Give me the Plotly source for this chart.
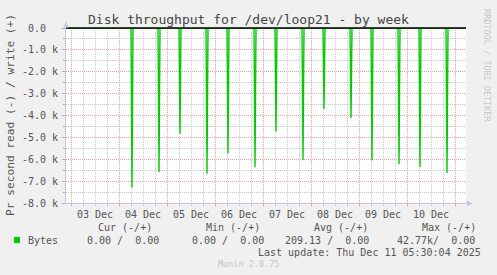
import numpy as np
import pandas as pd
import plotly.graph_objects as go

# ---------------- data ----------------
START = "2025-12-02 21:30"
END = "2025-12-11 05:30"

spike_times = [
    "2025-12-04 06:30", "2025-12-04 20:00", "2025-12-05 06:30", "2025-12-05 20:00",
    "2025-12-06 06:30", "2025-12-06 20:00", "2025-12-07 06:30", "2025-12-07 20:00",
    "2025-12-08 06:30", "2025-12-08 20:00", "2025-12-09 06:30", "2025-12-09 20:00",
    "2025-12-10 06:30", "2025-12-10 20:00",
]
read_bytes = [7290, 6580, 4830, 6660, 5730, 6370, 4730, 6050,
              3700, 4110, 6040, 6230, 6370, 6630]
hrule_value = 0
y_range = [-8000, 0]

day_labels = ["03 Dec", "04 Dec", "05 Dec", "06 Dec", "07 Dec", "08 Dec", "09 Dec", "10 Dec"]
y_tick_values = [0, -1000, -2000, -3000, -4000, -5000, -6000, -7000, -8000]
y_tick_labels = ["0.0\u00a0\u00a0", "-1.0 k", "-2.0 k", "-3.0 k", "-4.0 k",
                 "-5.0 k", "-6.0 k", "-7.0 k", "-8.0 k"]
y_minor_values = [-500, -1500, -2500, -3500, -4500, -5500, -6500, -7500]

title = "Disk throughput for /dev/loop21 - by week"
y_title = "Pr second read (-) / write (+)"
legend_headers = ["Cur (-/+)", "Min (-/+)", "Avg (-/+)", "Max (-/+)"]
legend_values = ["0.00 /\u00a0\u00a00.00", "0.00 /\u00a0\u00a00.00",
                 "209.13 /\u00a0\u00a00.00", "42.77k/\u00a0\u00a00.00"]
series_name = "Bytes"
last_update = "Last update: Thu Dec 11 05:30:04 2025"
footer = "Munin 2.0.75"
side_text = "RRDTOOL / TOBI OETIKER"

# ---------------- series ----------------
times = pd.date_range(START, END, freq="30min")
read = pd.Series(0.0, index=times)
read.loc[pd.to_datetime(spike_times)] = -np.array(read_bytes, dtype=float)
write = pd.Series(0.0, index=times)

midnights = pd.date_range("2025-12-03", "2025-12-11", freq="D")
noons = midnights[:-1] + pd.Timedelta(hours=12)
six_hours = pd.date_range("2025-12-03", END, freq="6h")
minor_x = [t for t in six_hours if t.hour != 0]

# ---------------- geometry helpers ----------------
W, H = 497, 275
L, R, T, B = 66, 31, 28, 72
PW, PH = W - L - R, H - T - B


def px(x):
    return (x - L) / PW


def py(y):
    return (H - B - y) / PH


GREEN = "#00CC00"
TXT = "#555555"
FONT = "DejaVu Sans Mono"
AXIS = "#C4C4EC"
MAJ = "#EE9A9A"
MIN = "#C8C8C8"
DASH = "1px,1px"

fig = go.Figure()
fig.add_trace(go.Scatter(x=write.index, y=write.values, mode="lines",
                         line=dict(color=GREEN, width=1),
                         hoverinfo="skip", showlegend=False))
fig.add_trace(go.Scatter(x=read.index, y=read.values, mode="lines",
                         line=dict(color=GREEN, width=1.4),
                         hoverinfo="skip", showlegend=False))
# overlay axis for the day labels (empty-valued helper trace keeps it alive)
fig.add_trace(go.Scatter(x=[START, END], y=[None, None], mode="lines", xaxis="x2",
                         hoverinfo="skip", showlegend=False))

hrule_paper = (hrule_value - y_range[0]) / (y_range[1] - y_range[0])

shapes = [
    # HRULE:0#000000 (paper-referenced so it is not clipped at the plot edge)
    dict(type="line", xref="paper", yref="paper", x0=0, x1=1,
         y0=hrule_paper, y1=hrule_paper,
         line=dict(color="black", width=1.6), layer="above"),
    dict(type="path", xref="paper", yref="paper",
         path=f"M {px(63.5)} {py(27.5)} L {px(68.5)} {py(27.5)} L {px(66)} {py(21)} Z",
         fillcolor=AXIS, line=dict(width=0)),
    dict(type="path", xref="paper", yref="paper",
         path=f"M {px(467)} {py(200.5)} L {px(467)} {py(206)} L {px(473)} {py(203.2)} Z",
         fillcolor=AXIS, line=dict(width=0)),
    dict(type="line", xref="paper", yref="paper", x0=1, x1=px(468), y0=0, y1=0,
         line=dict(color=AXIS, width=1)),
    dict(type="rect", xref="paper", yref="paper",
         x0=px(14), x1=px(20), y0=py(243), y1=py(237),
         fillcolor=GREEN, line=dict(width=0)),
]

ann = []


def add_text(text, x, y, size=10, color=TXT, xanchor="center", angle=0):
    ann.append(dict(text=text, x=px(x), y=py(y), xref="paper", yref="paper",
                    showarrow=False, xanchor=xanchor, yanchor="middle",
                    textangle=angle, font=dict(family=FONT, size=size, color=color)))


add_text(title, 248, 19, size=13, color="#444444")
add_text(y_title, 10, 115, size=11.2, angle=-90)
add_text(side_text, 487, 65, size=8.5, color="#C8C8C8", angle=90)
for h, cx in zip(legend_headers, [125, 233, 341, 449]):
    add_text(h, cx, 227)
add_text(series_name, 26, 240, xanchor="left")
for v, rx in zip(legend_values, [161, 266, 371, 477]):
    add_text(v, rx, 240, xanchor="right")
add_text(last_update, 483, 252, xanchor="right")
add_text(footer, 248, 264, size=8.5, color="#C4C4C4")

fig.update_layout(
    width=W, height=H,
    margin=dict(l=L, r=R, t=T, b=B, pad=0),
    paper_bgcolor="#F0F0F0", plot_bgcolor="white",
    showlegend=False, hovermode=False,
    shapes=shapes, annotations=ann,
    xaxis=dict(
        type="date", range=[START, END],
        tickmode="array", tickvals=list(midnights), ticktext=[""] * len(midnights),
        showgrid=True, gridcolor=MAJ, griddash=DASH, gridwidth=1,
        ticks="outside", ticklen=2, tickcolor=MAJ,
        showline=True, linecolor=AXIS, linewidth=1,
        zeroline=False, fixedrange=True,
        minor=dict(tickmode="array", tickvals=minor_x, showgrid=True,
                   gridcolor=MIN, griddash=DASH, gridwidth=1,
                   ticks="outside", ticklen=2, tickcolor=MIN),
    ),
    xaxis2=dict(
        type="date", overlaying="x", matches="x", side="bottom", anchor="y",
        tickmode="array", tickvals=list(noons), ticktext=day_labels,
        showgrid=False, ticks="", ticklabelstandoff=4,
        tickfont=dict(family=FONT, size=10, color=TXT),
        showline=False, zeroline=False, fixedrange=True,
    ),
    yaxis=dict(
        range=y_range,
        tickmode="array", tickvals=y_tick_values, ticktext=y_tick_labels,
        tickfont=dict(family=FONT, size=10, color=TXT),
        showgrid=True, gridcolor=MAJ, griddash=DASH, gridwidth=1,
        ticks="outside", ticklen=3, tickcolor="#B0B0B0", ticklabelstandoff=2,
        showline=True, linecolor=AXIS, linewidth=1,
        zeroline=False, fixedrange=True,
        minor=dict(tickmode="array", tickvals=y_minor_values, showgrid=True,
                   gridcolor=MIN, griddash=DASH, gridwidth=1,
                   ticks="outside", ticklen=2, tickcolor="#B0B0B0"),
    ),
)

fig.write_html("out.html", config={"displayModeBar": False, "staticPlot": True})
